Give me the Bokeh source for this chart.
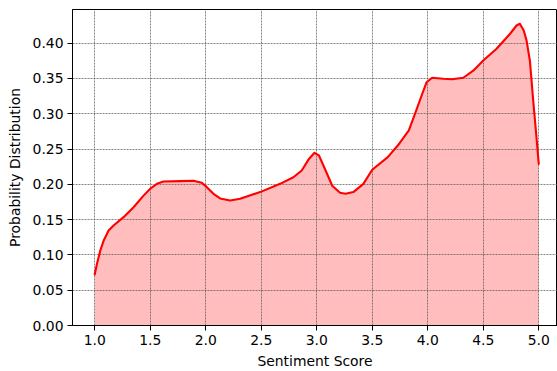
from bokeh.plotting import figure
from bokeh.models import FixedTicker, Range1d, NumeralTickFormatter
from bokeh.embed import file_html
from bokeh.resources import INLINE

sentiment = [1.0, 1.02, 1.05, 1.08, 1.125, 1.17, 1.26, 1.35, 1.44, 1.50, 1.56, 1.62, 1.77, 1.89,
             1.965, 2.01, 2.07, 2.13, 2.22, 2.31, 2.49, 2.67, 2.79, 2.865, 2.93, 2.98, 3.02,
             3.08, 3.14, 3.21, 3.26, 3.33, 3.42, 3.50, 3.64, 3.73, 3.83, 3.89, 3.95, 3.99,
             4.04, 4.14, 4.22, 4.32, 4.41, 4.50, 4.62, 4.74, 4.80, 4.83, 4.865, 4.89, 4.92,
             4.95, 4.977, 5.0]
density = [0.0723, 0.087, 0.106, 0.120, 0.1346, 0.1417, 0.1535, 0.1676, 0.184, 0.1937, 0.2007,
           0.204, 0.2045, 0.205, 0.2022, 0.196, 0.1866, 0.180, 0.177, 0.1795, 0.189, 0.2007,
           0.210, 0.2196, 0.236, 0.2447, 0.241, 0.2196, 0.198, 0.188, 0.1866, 0.189, 0.2007,
           0.2206, 0.2385, 0.255, 0.2763, 0.302, 0.328, 0.3447, 0.351, 0.3495, 0.3488, 0.351,
           0.361, 0.3755, 0.392, 0.413, 0.425, 0.4275, 0.418, 0.404, 0.3755, 0.319, 0.2716, 0.229]
x_ticks = [1.0, 1.5, 2.0, 2.5, 3.0, 3.5, 4.0, 4.5, 5.0]
y_ticks = [0.0, 0.05, 0.10, 0.15, 0.20, 0.25, 0.30, 0.35, 0.40]

FONT = "DejaVu Sans"

p = figure(width=557, height=371, output_backend="svg", toolbar_location=None,
           x_range=Range1d(0.8, 5.169), y_range=Range1d(0, 0.4477),
           min_border_left=72, min_border_right=0, min_border_top=9, min_border_bottom=45)

p.varea(x=sentiment, y1=0, y2=density, fill_color="red", fill_alpha=0.26, level="image")
p.line(sentiment, density, line_color="red", line_width=2.1, line_join="round", line_cap="round")

p.xaxis.ticker = FixedTicker(ticks=x_ticks)
p.yaxis.ticker = FixedTicker(ticks=y_ticks)
p.xaxis.formatter = NumeralTickFormatter(format="0.0")
p.yaxis.formatter = NumeralTickFormatter(format="0.00")
p.xaxis.axis_label = "Sentiment Score"
p.yaxis.axis_label = "Probability Distribution"

for ax in (p.xaxis, p.yaxis):
    ax.axis_label_text_font = FONT
    ax.axis_label_text_font_size = "13.9px"
    ax.axis_label_text_font_style = "normal"
    ax.axis_label_text_color = "black"
    ax.axis_label_standoff = 5
    ax.major_label_text_font = FONT
    ax.major_label_text_font_size = "13.9px"
    ax.major_label_text_color = "black"
    ax.major_label_standoff = 4
    ax.major_tick_out = 5
    ax.major_tick_in = 0
    ax.minor_tick_out = 0
    ax.minor_tick_in = 0
    ax.axis_line_color = "black"
    ax.axis_line_width = 1
    ax.major_tick_line_color = "black"

p.yaxis.axis_label_standoff = 7

p.grid.grid_line_color = "#555555"
p.grid.grid_line_dash = "2 1"
p.grid.grid_line_width = 0.8
p.grid.grid_line_alpha = 0.9

p.outline_line_color = "black"
p.outline_line_width = 1
p.background_fill_color = "white"
p.border_fill_color = "white"

open("out.html", "w").write(file_html(p, INLINE))
